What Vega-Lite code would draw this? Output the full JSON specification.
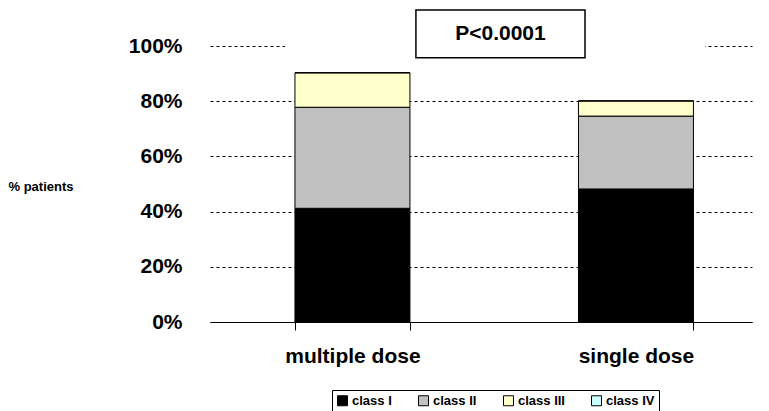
{
  "$schema": "https://vega.github.io/schema/vega-lite/v6.json",
  "autosize": {"type": "none"},
  "padding": {"left": 210, "top": 46, "right": 17, "bottom": 89},
  "width": 542,
  "height": 276,
  "background": "white",
  "config": {
    "view": {"stroke": null},
    "font": "Liberation Sans"
  },
  "layer": [
    {
      "data": {
        "values": [
          {"dose": "multiple dose", "class": "class I", "pct": 41.2},
          {"dose": "multiple dose", "class": "class II", "pct": 36.6},
          {"dose": "multiple dose", "class": "class III", "pct": 12.5},
          {"dose": "multiple dose", "class": "class IV", "pct": 0},
          {"dose": "single dose", "class": "class I", "pct": 48.2},
          {"dose": "single dose", "class": "class II", "pct": 26.4},
          {"dose": "single dose", "class": "class III", "pct": 5.5},
          {"dose": "single dose", "class": "class IV", "pct": 0}
        ]
      },
      "mark": {"type": "bar", "stroke": "black", "strokeWidth": 1},
      "encoding": {
        "x": {
          "field": "dose",
          "type": "nominal",
          "sort": ["multiple dose", "single dose"],
          "scale": {"paddingInner": 0.5944, "paddingOuter": 0.2531, "align": 0.592},
          "axis": {
            "title": null,
            "labelAngle": 0,
            "labelFont": "Liberation Sans",
            "labelFontWeight": "bold",
            "labelFontSize": 21,
            "labelColor": "black",
            "labelPadding": 15,
            "tickBand": "extent",
            "tickSize": 8,
            "tickColor": "black",
            "domainColor": "black",
            "domainWidth": 1,
            "grid": false
          }
        },
        "y": {
          "field": "pct",
          "type": "quantitative",
          "stack": "zero",
          "scale": {"domain": [0, 100], "nice": false},
          "axis": {
            "values": [0, 20, 40, 60, 80, 100],
            "labelExpr": "datum.value + '%'",
            "labelFont": "Liberation Sans",
            "labelFontWeight": "bold",
            "labelFontSize": 21,
            "labelColor": "black",
            "labelPadding": 28,
            "ticks": false,
            "tickSize": 0,
            "domain": false,
            "grid": true,
            "gridColor": "black",
            "gridDash": [3, 3],
            "gridWidth": 1,
            "title": "% patients",
            "titleFont": "Liberation Sans",
            "titleFontWeight": "bold",
            "titleFontSize": 13,
            "titleColor": "black",
            "titleAngle": 0,
            "titleAlign": "left",
            "titleBaseline": "middle",
            "titleX": -202,
            "titleY": 140
          }
        },
        "color": {
          "field": "class",
          "type": "nominal",
          "scale": {
            "domain": ["class I", "class II", "class III", "class IV"],
            "range": ["#000000", "#C0C0C0", "#FFFFCC", "#CCFFFF"]
          },
          "legend": {
            "title": null,
            "orient": "none",
            "direction": "horizontal",
            "legendX": 122,
            "legendY": 344,
            "symbolType": "square",
            "symbolSize": 100,
            "symbolStrokeColor": "black",
            "symbolStrokeWidth": 1,
            "symbolOpacity": 1,
            "labelFont": "Liberation Sans",
            "labelFontWeight": "bold",
            "labelFontSize": 13,
            "labelColor": "black",
            "labelOffset": 3,
            "columnPadding": 24,
            "padding": 4,
            "strokeColor": "black",
            "fillColor": "white"
          }
        },
        "order": {"field": "class", "sort": "ascending"}
      }
    },
    {
      "data": {"values": [{"label": "P<0.0001"}]},
      "layer": [
        {
          "mark": {"type": "rect", "fill": "white", "stroke": null},
          "encoding": {
            "x": {"datum": "multiple dose", "bandPosition": -0.087},
            "x2": {"datum": "single dose", "bandPosition": 1.1},
            "y": {"datum": 98.5, "type": "quantitative", "scale": {"domain": [0, 100], "nice": false}},
            "y2": {"datum": 101.5}
          }
        },
        {
          "mark": {"type": "rect", "fill": "white", "stroke": "black", "strokeWidth": 1.5},
          "encoding": {
            "x": {"datum": "multiple dose", "bandPosition": 1.052},
            "x2": {"datum": "single dose", "bandPosition": 0.057},
            "y": {"datum": 95.7, "type": "quantitative", "scale": {"domain": [0, 100], "nice": false}},
            "y2": {"datum": 113}
          }
        },
        {
          "mark": {"type": "text", "font": "Liberation Sans", "fontWeight": "bold", "fontSize": 21, "color": "black", "align": "center", "baseline": "middle"},
          "encoding": {
            "x": {"datum": "multiple dose", "bandPosition": 1.787},
            "y": {"datum": 104.3, "type": "quantitative", "scale": {"domain": [0, 100], "nice": false}},
            "text": {"field": "label"}
          }
        }
      ]
    }
  ]
}
